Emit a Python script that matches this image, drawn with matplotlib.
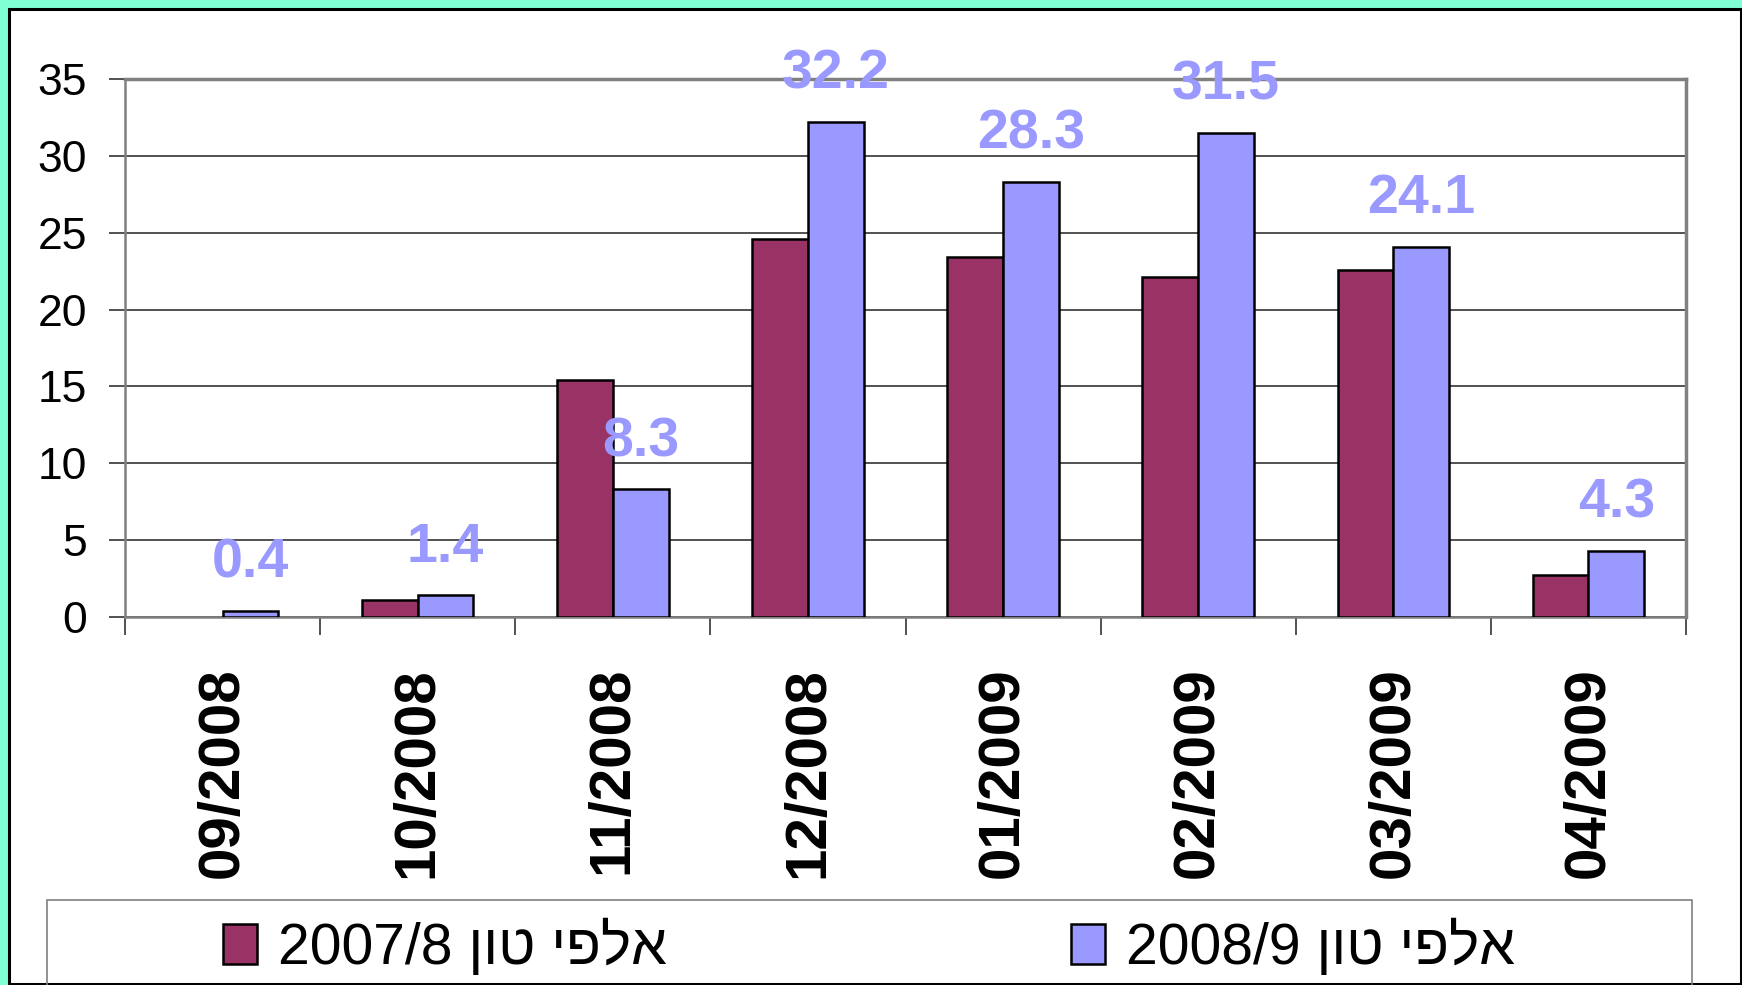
import matplotlib.pyplot as plt
import numpy as np
from matplotlib.patches import Rectangle, Patch

plt.rcParams['font.family'] = ['Liberation Sans', 'DejaVu Sans']

# data
months = ["09/2008", "10/2008", "11/2008", "12/2008", "01/2009", "02/2009", "03/2009", "04/2009"]
tons_0708 = [0.0, 1.1, 15.4, 24.6, 23.4, 22.1, 22.6, 2.7]
tons_0809 = [0.4, 1.4, 8.3, 32.2, 28.3, 31.5, 24.1, 4.3]
# legend text in visual (left-to-right) order, since matplotlib has no bidi
label_0708 = "2007/8 " + "טון"[::-1] + " " + "אלפי"[::-1]
label_0809 = "2008/9 " + "טון"[::-1] + " " + "אלפי"[::-1]

maroon = "#993366"
lilac = "#9999FF"

fig = plt.figure(figsize=(17.42, 9.85), dpi=100, facecolor="#80FFD4")

# white panel with black border
fig.patches.append(Rectangle((9/1742, 1/985), 1732/1742, 975/985, transform=fig.transFigure,
                             facecolor="white", edgecolor="black", linewidth=2.2, zorder=-5))

ax = fig.add_axes([125/1742, 368/985, 1561/1742, 538/985])

x = np.arange(len(months))
w = 0.2857
bars1 = ax.bar(x - w/2, tons_0708, w, color=maroon, edgecolor="black", linewidth=1.8, zorder=3)
bars2 = ax.bar(x + w/2, tons_0809, w, color=lilac, edgecolor="black", linewidth=1.8, zorder=3)
# empty months show no bar at all
for b in list(bars1) + list(bars2):
    if b.get_height() == 0:
        b.set_visible(False)

for xi, v in zip(x, tons_0809):
    ax.annotate(f"{v:.1f}", (xi + w/2, v), xytext=(0, 24), textcoords="offset points",
                ha="center", va="baseline", fontsize=40, fontweight="bold", color=lilac,
                annotation_clip=False, zorder=5)

ax.set_xlim(-0.5, 7.5)
ax.set_ylim(0, 35)
ax.set_yticks(np.arange(0, 36, 5))
ax.yaxis.grid(True, color="#333333", linewidth=1.2, zorder=0)
ax.set_axisbelow(True)

ax.set_xticks(x)
ax.set_xticklabels(months, rotation=90, fontsize=42, fontweight="bold", va="top")
ax.set_xticks(np.arange(-0.5, 8, 1), minor=True)
ax.tick_params(axis="x", which="major", length=0, pad=36)
ax.tick_params(axis="x", which="minor", length=13, width=1.2, color="#333333", direction="out")
ax.tick_params(axis="y", length=11.5, width=1.2, color="#333333", pad=16, labelsize=32)

for side in ["top", "right", "left", "bottom"]:
    ax.spines[side].set_color("#808080")
ax.spines["top"].set_linewidth(2.5)
ax.spines["right"].set_linewidth(2.5)
ax.spines["left"].set_linewidth(1.8)
ax.spines["bottom"].set_linewidth(1.8)

# legend frame
fig.patches.append(Rectangle((47/1742, -0.01), 1645/1742, 85/985 + 0.01, transform=fig.transFigure,
                             facecolor="none", edgecolor="#808080", linewidth=1.2, zorder=1))
handles = [Patch(facecolor=maroon, edgecolor="black", linewidth=1.8),
           Patch(facecolor=lilac, edgecolor="black", linewidth=1.8)]
fig.legend(handles, [label_0708, label_0809], loc="center", bbox_to_anchor=(869/1742, 38/985),
           ncol=2, frameon=False, fontsize=41, handlelength=0.6, handleheight=0.7,
           handletextpad=0.37, columnspacing=7.1, borderpad=0)

fig.savefig("out.png", dpi=100, facecolor=fig.get_facecolor())
